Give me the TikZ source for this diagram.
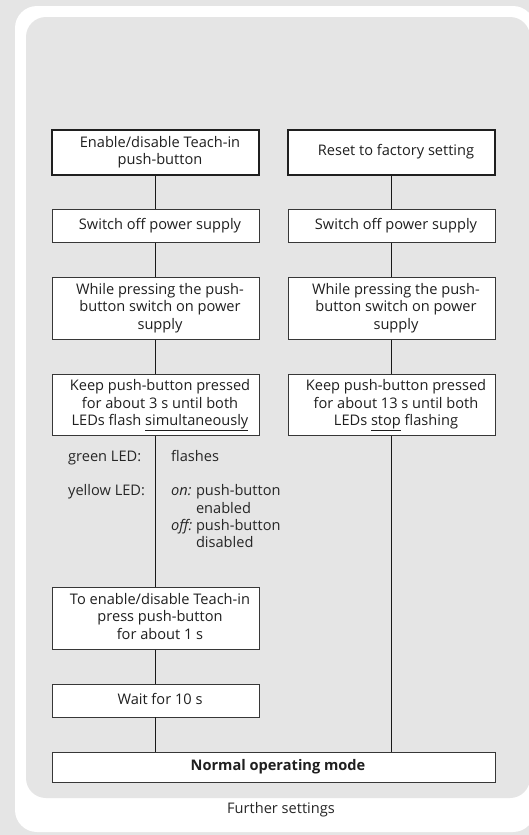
\documentclass[tikz,border=0pt]{standalone}
\usepackage{fontspec}
\setmainfont{Open Sans}
\definecolor{bg}{RGB}{229,229,229}
\definecolor{bd}{RGB}{55,55,55}
\newcommand\fs{\fontsize{14.6}{17.4}\selectfont}
\newcommand\bxt[1]{\hspace*{9pt}\begin{tabular}{@{}c@{}}#1\end{tabular}}
\tikzset{
  box/.style={draw=bd, line width=0.9pt, fill=white, inner sep=0pt, minimum width=207pt, font=\fs, text=black!88},
  thickbox/.style={box, draw=black!88, line width=2pt},
  conn/.style={draw=black!90, line width=0.8pt},
  lbl/.style={inner sep=0pt, anchor=mid west, font=\fs, text=black!85},
}
\begin{document}
\begin{tikzpicture}[x=1pt,y=-1pt]
\useasboundingbox (0,0) rectangle (529,835);
\fill[bg] (0,0) rectangle (529,835);
\fill[white, rounded corners=22pt] (15,6) rectangle (535,832);
\fill[bg, rounded corners=20pt] (26,17) rectangle (530,798);

% left column
\node[thickbox, minimum height=45pt] (L1) at (155.5,152.5) {\bxt{Enable/disable Teach-in\\push-button}};
\node[box, minimum height=32.6pt] (L2) at (155.5,226) {\bxt{Switch off power supply}};
\node[box, minimum height=62.3pt] (L3) at (155.5,308.2) {\bxt{While pressing the push-\\button switch on power\\supply}};
\node[box, minimum height=61.4pt] (L4) at (155.5,405) {\bxt{Keep push-button pressed\\for about 3 s until both\\LEDs flash \underline{simultaneously}}};
\node[box, minimum height=61.6pt] (L5) at (155.5,618.5) {\bxt{To enable/disable Teach-in\\press push-button\\for about 1 s}};
\node[box, minimum height=32.3pt] (L6) at (155.5,700.8) {\bxt{Wait for 10 s}};

% right column
\node[thickbox, minimum height=45pt] (R1) at (391.5,152.5) {\bxt{Reset to factory setting}};
\node[box, minimum height=32.6pt] (R2) at (391.5,226) {\bxt{Switch off power supply}};
\node[box, minimum height=62.3pt] (R3) at (391.5,308.2) {\bxt{While pressing the push-\\button switch on power\\supply}};
\node[box, minimum height=61.4pt] (R4) at (391.5,405) {\bxt{Keep push-button pressed\\for about 13 s until both\\LEDs \underline{stop} flashing}};

% bottom
\node[box, minimum width=443pt, minimum height=29.6pt] (N) at (273.5,767.5) {\bxt{\bfseries Normal operating mode}};

% LED labels
\node[lbl] (gl) at (68,459) {green LED:};
\node[lbl] (yl) at (68,493) {yellow LED:};
\node[lbl] (gv) at (171,459) {flashes};
\node[lbl] (yv) at (171,493) {\begin{tabular}[t]{@{}l@{\ }l@{}}\emph{on:} & push-button\\ & enabled\\ \emph{off:} & push-button\\ & disabled\end{tabular}};

% connectors
\draw[conn] (L1.south) -- (L2.north);
\draw[conn] (L2.south) -- (L3.north);
\draw[conn] (L3.south) -- (L4.north);
\draw[conn] (L4.south) -- (L5.north);
\draw[conn] (L5.south) -- (L6.north);
\draw[conn] (L6.south) -- (L6.south |- N.north);
\draw[conn] (R1.south) -- (R2.north);
\draw[conn] (R2.south) -- (R3.north);
\draw[conn] (R3.south) -- (R4.north);
\draw[conn] (R4.south) -- (R4.south |- N.north);

\node[font=\fs, text=black!85] (fs) at (281,810) {Further settings};
\end{tikzpicture}
\end{document}
